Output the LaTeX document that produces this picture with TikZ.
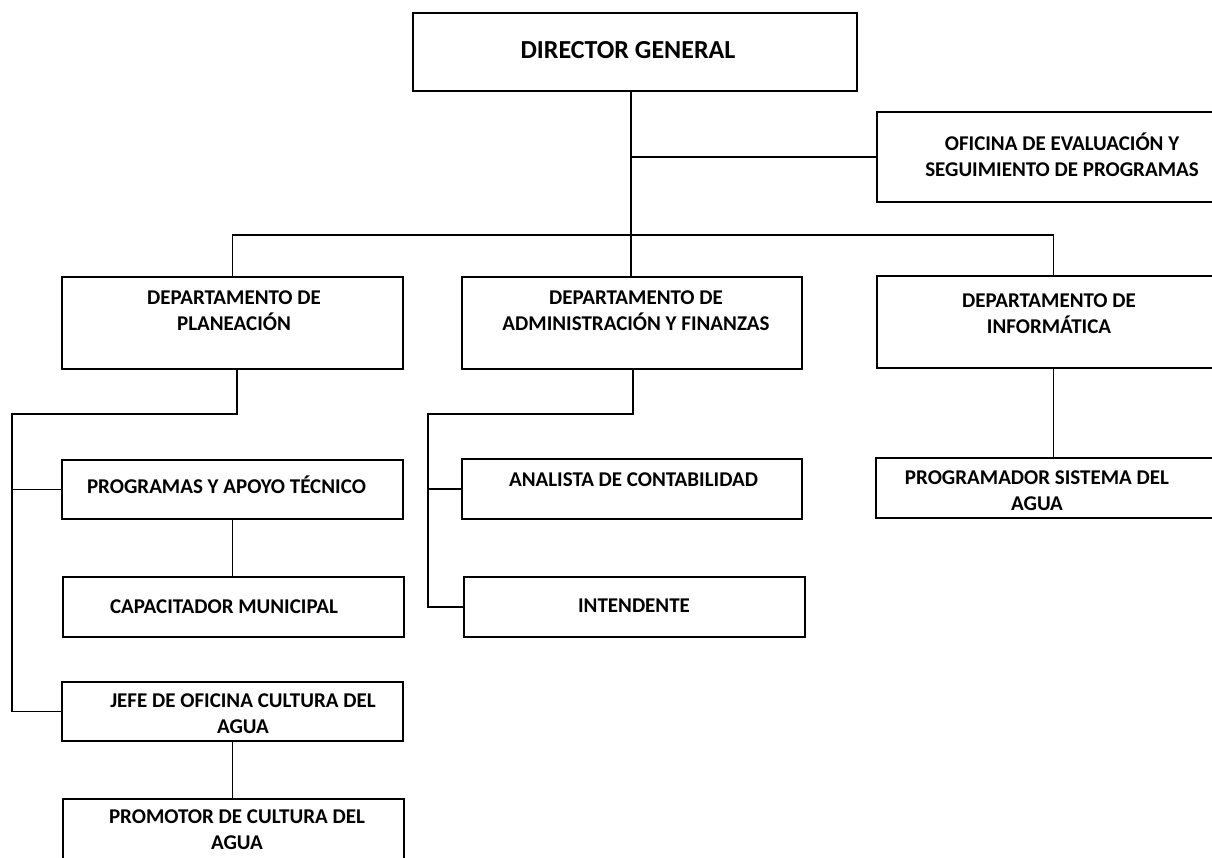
\documentclass[tikz,border=0pt]{standalone}
\usepackage{fontspec}
\setmainfont{Carlito}
\begin{document}
\begin{tikzpicture}[x=1pt,y=-1pt,
  box/.style={draw=black, line width=2.4pt, rectangle, inner sep=0pt, outer sep=0pt},
  lbl/.style={font=\bfseries\fontsize{21}{26}\selectfont, align=center, inner sep=0pt},
  big/.style={font=\bfseries\fontsize{26}{30}\selectfont, inner sep=0pt},
  conn/.style={draw=black, line width=1.8pt}]
\useasboundingbox (0,0) rectangle (1212,857);
\clip (0,0) rectangle (1212,857);
\fill[white] (0,0) rectangle (1212,857);

% boxes
\node[box, minimum width=444pt, minimum height=78pt] (dir) at (635,52) {};
\node[box, minimum width=339pt, minimum height=90pt] (ofi) at (1046.5,157) {};
\node[box, minimum width=341pt, minimum height=92pt] (plan) at (232.5,323) {};
\node[box, minimum width=340pt, minimum height=92pt] (adm) at (632,323) {};
\node[box, minimum width=339pt, minimum height=92pt] (inf) at (1046.5,322) {};
\node[box, minimum width=341pt, minimum height=59pt] (prog) at (232.5,489.5) {};
\node[box, minimum width=340pt, minimum height=60pt] (ana) at (632,489) {};
\node[box, minimum width=340pt, minimum height=60pt] (pgm) at (1046,488) {};
\node[box, minimum width=341pt, minimum height=60pt] (cap) at (233.5,607) {};
\node[box, minimum width=341pt, minimum height=60pt] (int) at (634.5,607) {};
\node[box, minimum width=341pt, minimum height=59pt] (jefe) at (232.5,711.5) {};
\node[box, minimum width=341pt, minimum height=81pt] (prom) at (233.5,839.5) {};

% texts
\node[big] (tdir) at (628,50) {DIRECTOR GENERAL};
\node[lbl] (tofi) at (1062,155) {OFICINA DE EVALUACIÓN Y\\SEGUIMIENTO DE PROGRAMAS};
\node[lbl] (tplan) at (234,310.5) {DEPARTAMENTO DE\\PLANEACIÓN};
\node[lbl] (tadm) at (636,310.5) {DEPARTAMENTO DE\\ADMINISTRACIÓN Y FINANZAS};
\node[lbl] (tinf) at (1049,313.5) {DEPARTAMENTO DE\\INFORMÁTICA};
\node[lbl] (tprog) at (226.5,485) {PROGRAMAS Y APOYO TÉCNICO};
\node[lbl] (tana) at (633.5,480) {ANALISTA DE CONTABILIDAD};
\node[lbl] (tpgm) at (1037,491) {PROGRAMADOR SISTEMA DEL\\AGUA};
\node[lbl] (tcap) at (224,607) {CAPACITADOR MUNICIPAL};
\node[lbl] (tint) at (634,606) {INTENDENTE};
\node[lbl] (tjefe) at (243,714) {JEFE DE OFICINA CULTURA DEL\\AGUA};
\node[lbl] (tprom) at (237,830) {PROMOTOR DE CULTURA DEL\\AGUA};

% helper coordinates
\coordinate (trunk) at (631,0);
\coordinate (bus) at (631,235);
\coordinate (infx) at (1053.5,0);
\coordinate (px) at (237,0);
\coordinate (lx) at (12,414);
\coordinate (ax) at (633,0);
\coordinate (alx) at (428,414);

% connectors
\draw[conn] (dir.south -| trunk) -- (adm.north -| trunk);
\draw[conn] (trunk |- ofi.west) -- (ofi.west);
\draw[conn] (plan.north) |- (bus) -| (inf.north -| infx);
\draw[conn] (plan.south -| px) |- (lx) |- (jefe.west);
\draw[conn] (lx |- prog.west) -- (prog.west);
\draw[conn] (adm.south -| ax) |- (alx) |- (int.west);
\draw[conn] (alx |- ana.west) -- (ana.west);
\draw[conn] (inf.south -| infx) -- (pgm.north -| infx);
\draw[conn] (prog.south) -- (prog.south |- cap.north);
\draw[conn] (jefe.south) -- (jefe.south |- prom.north);
\end{tikzpicture}
\end{document}
